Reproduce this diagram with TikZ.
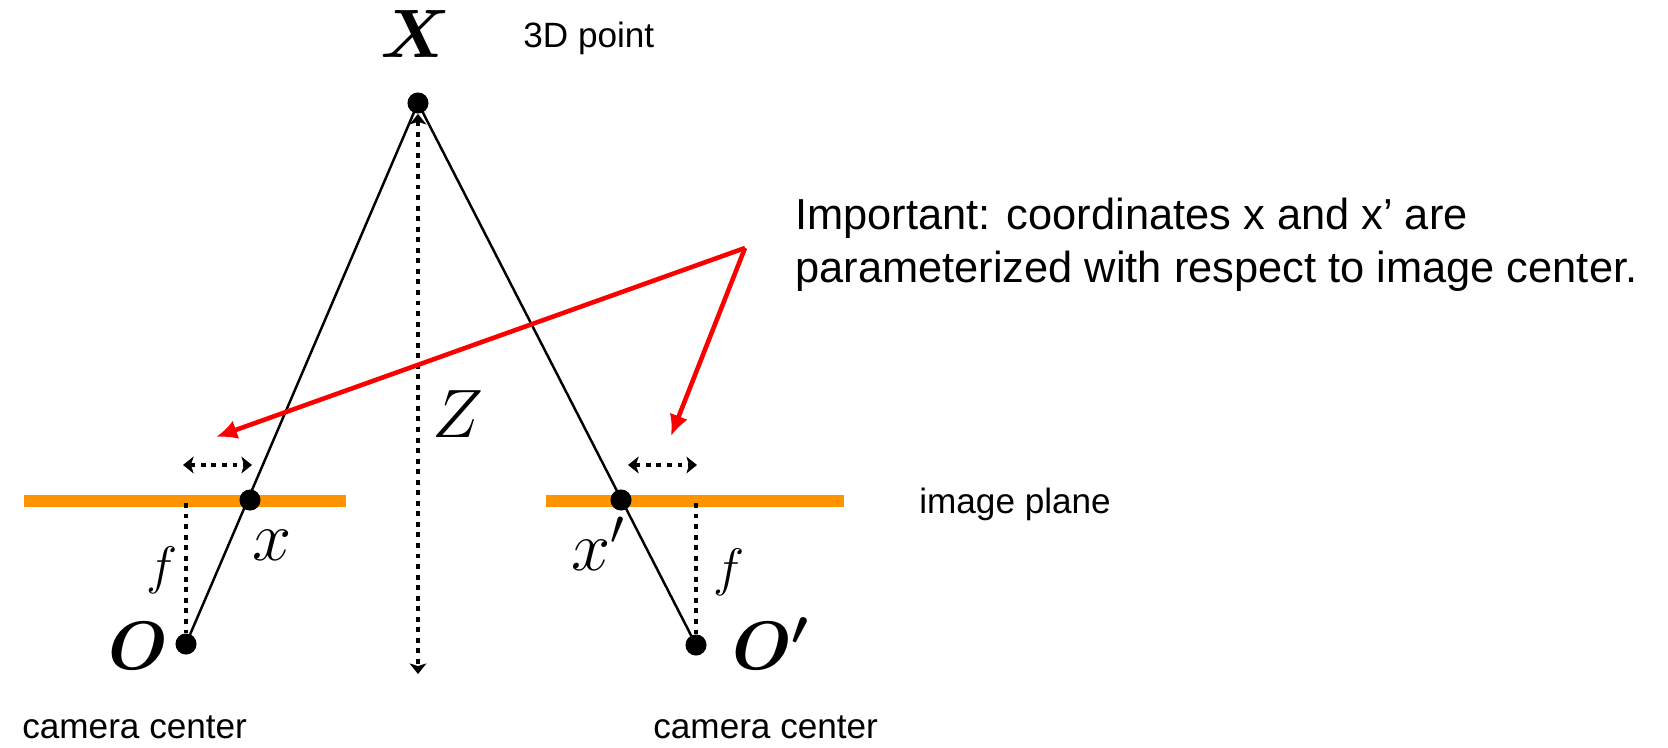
\RequirePackage{fix-cm}
\documentclass[tikz,border=0pt]{standalone}
\usepackage{bm}
\usepackage{fontspec}
\setmainfont{Liberation Sans}
\usetikzlibrary{arrows.meta,positioning}
\definecolor{PlaneOrange}{RGB}{255,148,0}
\definecolor{ArrowRed}{RGB}{250,0,0}
\tikzset{
	dot/.style={circle, fill=black, inner sep=0pt, minimum size=12pt},
	ray/.style={line width=1.4pt, black},
	plane/.style={line width=6.8pt, PlaneOrange},
	dotline/.style={line width=2.8pt, dash pattern=on 2.8pt off 3.2pt},
	dblarrow/.style={dotline, >={Stealth[length=6pt,width=9.5pt,inset=1.5pt]}, <->},
	redarrow/.style={line width=2.6pt, ArrowRed, -{Latex[length=12pt,width=11pt]}},
	lbl/.style={inner sep=0pt, font=\fontsize{20}{24}\selectfont},
	mathlbl/.style={inner sep=0pt, font=\fontsize{39}{44}\selectfont}
}

\begin{document}
\begin{tikzpicture}[x=0.2mm, y=-0.2mm]
		\useasboundingbox (0,0) rectangle (1668,747);
		
		% 坐标点
		\coordinate (Xp) at (418,103);
		\coordinate (xl) at (250,500);
		\coordinate (xr) at (621,500);
		\coordinate (Op) at (186,644);
		\coordinate (Oq) at (696,645);
		
		% 像平面
		\draw[plane] (24,501) -- (346,501);
		\draw[plane] (546,501) -- (844,501);
		
		% 标点
		\node[dot] (X) at (Xp) {};
		\node[dot] (x) at (xl) {};
		\node[dot] (x2) at (xr) {};
		\node[dot] (O) at (Op) {};
		\node[dot] (O2) at (Oq) {};
		
		% 投影线
		\draw[ray] (X.center) -- (O.center);
		\draw[ray] (X.center) -- (O2.center);
		
		% 深度 Z 与焦距 f
		\coordinate (Zend) at (418,674);
		\coordinate (fl) at (186,503);
		\coordinate (fr) at (696,503);
		\draw[dblarrow] (X.south) -- (Zend);
		\draw[dotline] (fl) -- (O.north);
		\draw[dotline] (fr) -- (O2.north);
		
		% 像坐标范围
		\coordinate (la) at (183,465);
		\coordinate (lb) at (252,465);
		\coordinate (ra) at (628,465);
		\coordinate (rb) at (697,465);
		\draw[dblarrow] (la) -- (lb);
		\draw[dblarrow] (ra) -- (rb);
		
		% 标注
		\node[mathlbl] (Xlab) at (416,34) {$\bm{X}$};
		\node[mathlbl] (Zlab) at (458,414) {$Z$};
		\node[mathlbl, anchor=base] (Olab) at (138,669) {$\bm{O}$};
		\node[mathlbl, anchor=base west] (O2lab) at (732,669) {$\bm{O'}$};
		\node[inner sep=0pt, anchor=base, font=\fontsize{40}{44}\selectfont] (xlab) at (272,560) {$x$};
		\node[inner sep=0pt, anchor=base west, font=\fontsize{40}{44}\selectfont] (x2lab) at (571,570) {$x'$};
		\node[inner sep=0pt, font=\fontsize{30}{34}\selectfont] (flab) at (162,570) {$f$};
		\node[inner sep=0pt, font=\fontsize{30}{34}\selectfont] (f2lab) at (729,572) {$f$};
		
		% 文字说明
		\node[lbl, anchor=base west] (pt) at (523,47) {3D point};
		\node[lbl, anchor=base west] (cam1) at (22,738) {camera center};
		\node[lbl, anchor=base west] (cam2) at (653,738) {camera center};
		\node[lbl, anchor=base west] (ip) at (919,513) {image plane};
		\node[inner sep=0pt, anchor=base west, align=left, font=\fontsize{24.7}{29.6}\selectfont] (note) at (795,282)
			{Important: coordinates x and x’ are\\parameterized with respect to image center.};
		
		% 红色箭头
		\coordinate (tail) at (745,248);
		\coordinate (hitl) at (216,437);
		\coordinate (hitr) at (671,436);
		\draw[redarrow] (tail) -- (hitl);
		\draw[redarrow] (tail) -- (hitr);
	\end{tikzpicture}
\end{document}
